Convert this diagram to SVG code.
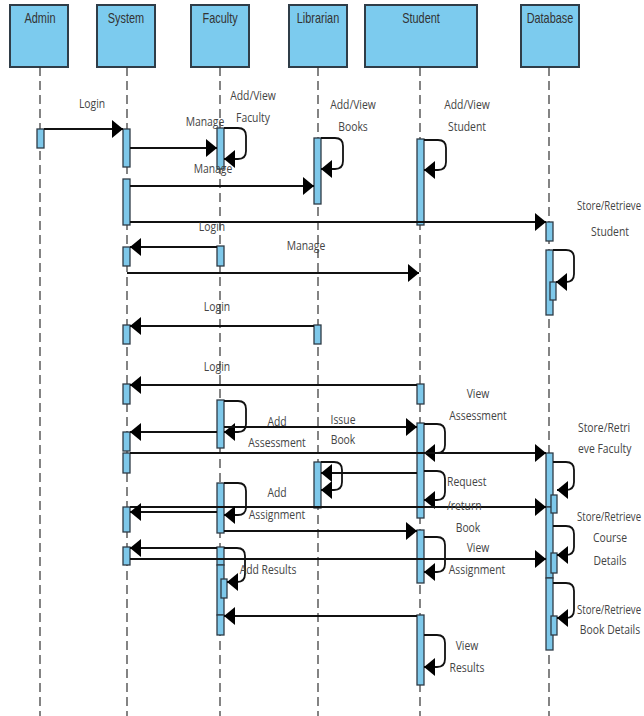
<svg xmlns="http://www.w3.org/2000/svg" width="644" height="716" viewBox="0 0 644 716">
<style>
.hdr{fill:#7ccbee;stroke:#2f3d48;stroke-width:2}
.htxt{font-family:"Liberation Sans",sans-serif;font-size:14px;fill:#333;text-anchor:middle;transform-box:fill-box;transform-origin:center;transform:scaleX(0.78)}
.life{stroke:#333;stroke-width:1.2;stroke-dasharray:9 5;fill:none}
.act{fill:#7ec8ea;stroke:#2e3b45;stroke-width:1.3}
.msg{stroke:#111;stroke-width:1.8;fill:none;marker-end:url(#ah)}
.lbl{font-family:"Open Sans",sans-serif;font-size:12.5px;fill:#444;text-anchor:middle;transform-box:fill-box;transform-origin:center;transform:scaleX(0.83)}
.lbs{font-family:"Open Sans",sans-serif;font-size:12.5px;fill:#444;text-anchor:start;transform-box:fill-box;transform-origin:left center;transform:scaleX(0.83)}
.lbr{font-family:"Open Sans",sans-serif;font-size:12.5px;fill:#444;text-anchor:start;transform-box:fill-box;transform-origin:left center;transform:scaleX(0.77)}
</style>
<defs>
<marker id="ah" viewBox="0 0 11 18" refX="11" refY="9" markerWidth="11" markerHeight="18" orient="auto" markerUnits="userSpaceOnUse"><path d="M0,0 L11,9 L0,18 z" fill="#000"/></marker>
</defs>
<rect width="644" height="716" fill="#fff"/>

<g id="admin">
<rect class="hdr" x="10" y="5" width="58" height="62"/>
<text class="htxt" x="40" y="23">Admin</text>
<line class="life" x1="40" y1="67" x2="40" y2="716"/>
<rect class="act" x="37" y="129" width="7" height="19"/>
</g>

<g id="system">
<rect class="hdr" x="97" y="5" width="58" height="62"/>
<text class="htxt" x="126" y="23">System</text>
<line class="life" x1="127" y1="67" x2="127" y2="716"/>
<rect class="act" x="123" y="129" width="7" height="38"/>
<rect class="act" x="123" y="179" width="7" height="46"/>
<rect class="act" x="123" y="247" width="7" height="19"/>
<rect class="act" x="123" y="325" width="7" height="19"/>
<rect class="act" x="123" y="384" width="7" height="20"/>
<rect class="act" x="123" y="432" width="7" height="19"/>
<rect class="act" x="123" y="453" width="7" height="20"/>
<rect class="act" x="123" y="507" width="7" height="25"/>
<rect class="act" x="123" y="547" width="7" height="18"/>
</g>

<g id="faculty">
<rect class="hdr" x="191" y="5" width="58" height="62"/>
<text class="htxt" x="220" y="23">Faculty</text>
<line class="life" x1="220" y1="67" x2="220" y2="716"/>
<rect class="act" x="217" y="128" width="7" height="41"/>
<rect class="act" x="217" y="246" width="7" height="20"/>
<rect class="act" x="217" y="400" width="7" height="48"/>
<rect class="act" x="217" y="483" width="7" height="50"/>
<rect class="act" x="217" y="547" width="7" height="18"/>
<rect class="act" x="217" y="565" width="7" height="50"/>
<rect class="act" x="217" y="615" width="7" height="20"/>
<rect class="act" x="221" y="579" width="6" height="19"/>
</g>

<g id="librarian">
<rect class="hdr" x="289" y="5" width="58" height="62"/>
<text class="htxt" x="318" y="23">Librarian</text>
<line class="life" x1="318" y1="67" x2="318" y2="716"/>
<rect class="act" x="314" y="138" width="7" height="66"/>
<rect class="act" x="314" y="325" width="7" height="19"/>
<rect class="act" x="314" y="462" width="7" height="46"/>
</g>

<g id="student">
<rect class="hdr" x="365" y="5" width="112" height="62"/>
<text class="htxt" x="421" y="23">Student</text>
<line class="life" x1="420" y1="67" x2="420" y2="716"/>
<rect class="act" x="417" y="139" width="7" height="86"/>
<rect class="act" x="417" y="384" width="7" height="20"/>
<rect class="act" x="417" y="423" width="7" height="95"/>
<rect class="act" x="417" y="530" width="7" height="53"/>
<rect class="act" x="417" y="615" width="7" height="70"/>
</g>

<g id="database">
<rect class="hdr" x="521" y="5" width="58" height="62"/>
<text class="htxt" x="550" y="23">Database</text>
<line class="life" x1="549" y1="67" x2="549" y2="716"/>
<rect class="act" x="546" y="222" width="7" height="19"/>
<rect class="act" x="546" y="250" width="7" height="65"/>
<rect class="act" x="550" y="282" width="6" height="18"/>
<rect class="act" x="546" y="453" width="7" height="54"/>
<rect class="act" x="546" y="507" width="7" height="71"/>
<rect class="act" x="546" y="578" width="7" height="72"/>
<rect class="act" x="551" y="495" width="6" height="18"/>
<rect class="act" x="551" y="553" width="6" height="20"/>
<rect class="act" x="551" y="616" width="6" height="19"/>
</g>

<g id="connectors">
<line class="msg" x1="44" y1="129" x2="123" y2="129"/>
<line class="msg" x1="130" y1="148" x2="217" y2="148"/>
<path class="msg" d="M224 128 H238 Q246 128 246 136 V151 Q246 159 238 159 H224"/>
<line class="msg" x1="130" y1="186" x2="314" y2="186"/>
<path class="msg" d="M321 138 H335 Q343 138 343 146 V161 Q343 169 335 169 H321"/>
<path class="msg" d="M424 140 H438 Q446 140 446 148 V162 Q446 170 438 170 H424"/>
<line class="msg" x1="130" y1="222" x2="546" y2="222"/>
<path class="msg" d="M553 250 H566 Q574 250 574 258 V274 Q574 282 566 282 H556"/>
<line class="msg" x1="217" y1="247" x2="130" y2="247"/>
<line class="msg" x1="127" y1="273" x2="419" y2="273"/>
<line class="msg" x1="314" y1="326" x2="130" y2="326"/>
<line class="msg" x1="417" y1="385" x2="130" y2="385"/>
<path class="msg" d="M224 401 H238 Q246 401 246 409 V424 Q246 432 238 432 H224"/>
<line class="msg" x1="217" y1="432" x2="130" y2="432"/>
<line class="msg" x1="224" y1="427" x2="417" y2="427"/>
<path class="msg" d="M424 424 H437 Q445 424 445 432 V445 Q445 453 437 453 H424"/>
<line class="msg" x1="130" y1="453" x2="546" y2="453"/>
<path class="msg" d="M553 462 H566 Q574 462 574 470 V482 Q574 490 566 490 H557"/>
<line class="msg" x1="417" y1="473" x2="321" y2="473"/>
<path class="msg" d="M321 462 H334 Q342 462 342 470 V482 Q342 490 334 490 H321"/>
<path class="msg" d="M424 471 H437 Q445 471 445 479 V492 Q445 500 437 500 H424"/>
<line class="msg" x1="130" y1="507" x2="546" y2="507"/>
<line class="msg" x1="217" y1="512" x2="130" y2="512"/>
<path class="msg" d="M224 483 H238 Q246 483 246 491 V507 Q246 515 238 515 H224"/>
<line class="msg" x1="224" y1="531" x2="417" y2="531"/>
<path class="msg" d="M553 526 H566 Q574 526 574 534 V547 Q574 555 566 555 H557"/>
<path class="msg" d="M424 537 H437 Q445 537 445 545 V564 Q445 572 437 572 H424"/>
<line class="msg" x1="217" y1="548" x2="130" y2="548"/>
<line class="msg" x1="130" y1="559" x2="546" y2="559"/>
<path class="msg" d="M224 548 H237 Q245 548 245 556 V574 Q245 582 237 582 H227"/>
<line class="msg" x1="417" y1="616" x2="224" y2="616"/>
<path class="msg" d="M553 583 H566 Q574 583 574 591 V610 Q574 618 566 618 H557"/>
<path class="msg" d="M424 635 H437 Q445 635 445 643 V659 Q445 667 437 667 H424"/>
</g>

<g id="labels">
<text class="lbl" x="92" y="108">Login</text>
<text class="lbl" x="205" y="126">Manage</text>
<text class="lbl" x="253" y="100">Add/View</text>
<text class="lbl" x="253" y="122">Faculty</text>
<text class="lbl" x="213" y="173">Manage</text>
<text class="lbl" x="353" y="109">Add/View</text>
<text class="lbl" x="353" y="131">Books</text>
<text class="lbl" x="467" y="109">Add/View</text>
<text class="lbl" x="467" y="131">Student</text>
<text class="lbr" x="577" y="210">Store/Retrieve</text>
<text class="lbl" x="610" y="236">Student</text>
<text class="lbl" x="212" y="231">Login</text>
<text class="lbl" x="306" y="250">Manage</text>
<text class="lbl" x="217" y="311">Login</text>
<text class="lbl" x="217" y="371">Login</text>
<text class="lbl" x="478" y="398">View</text>
<text class="lbl" x="478" y="420">Assessment</text>
<text class="lbl" x="277" y="426">Add</text>
<text class="lbl" x="277" y="447">Assessment</text>
<text class="lbl" x="343" y="424">Issue</text>
<text class="lbl" x="343" y="444">Book</text>
<text class="lbs" x="578" y="432">Store/Retri</text>
<text class="lbs" x="578" y="453">eve Faculty</text>
<text class="lbs" x="447" y="486">Request</text>
<text class="lbs" x="447" y="510">/return</text>
<text class="lbl" x="468" y="532">Book</text>
<text class="lbl" x="277" y="497">Add</text>
<text class="lbl" x="277" y="519">Assignment</text>
<text class="lbr" x="577" y="521">Store/Retrieve</text>
<text class="lbl" x="610" y="542">Course</text>
<text class="lbl" x="610" y="565">Details</text>
<text class="lbl" x="478" y="552">View</text>
<text class="lbl" x="477" y="574">Assignment</text>
<text class="lbl" x="268" y="574">Add Results</text>
<text class="lbr" x="577" y="614">Store/Retrieve</text>
<text class="lbl" x="610" y="634">Book Details</text>
<text class="lbl" x="467" y="650">View</text>
<text class="lbl" x="467" y="672">Results</text>
</g>
</svg>
